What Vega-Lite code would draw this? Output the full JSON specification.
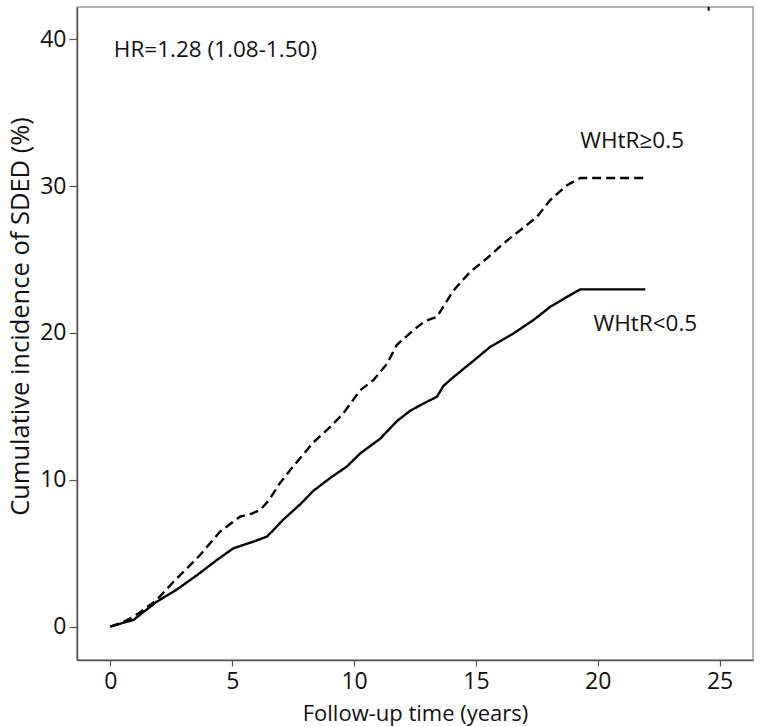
{
  "$schema": "https://vega.github.io/schema/vega-lite/v6.json",
  "width": 676,
  "height": 653,
  "autosize": {"type": "none"},
  "padding": {"left": 77, "top": 7, "right": 7, "bottom": 67},
  "background": "white",
  "config": {
    "font": "Open Sans",
    "view": {"stroke": "#9a9a9a", "strokeWidth": 1.5},
    "axis": {
      "grid": false,
      "domainColor": "#555555",
      "domainWidth": 1.5,
      "tickColor": "#555555",
      "tickWidth": 1.2,
      "labelColor": "#111111",
      "titleColor": "#111111",
      "labelFont": "Open Sans",
      "titleFont": "Open Sans",
      "titleFontWeight": "normal"
    }
  },
  "datasets": {
    "curves": [
      {"t": 0, "inc": 0, "grp": "WHtR<0.5"},
      {"t": 0.3, "inc": 0.15, "grp": "WHtR<0.5"},
      {"t": 0.6, "inc": 0.3, "grp": "WHtR<0.5"},
      {"t": 0.95, "inc": 0.46, "grp": "WHtR<0.5"},
      {"t": 1.4, "inc": 1.05, "grp": "WHtR<0.5"},
      {"t": 1.9, "inc": 1.7, "grp": "WHtR<0.5"},
      {"t": 2.7, "inc": 2.5, "grp": "WHtR<0.5"},
      {"t": 3.55, "inc": 3.5, "grp": "WHtR<0.5"},
      {"t": 4.37, "inc": 4.54, "grp": "WHtR<0.5"},
      {"t": 5.05, "inc": 5.34, "grp": "WHtR<0.5"},
      {"t": 5.87, "inc": 5.79, "grp": "WHtR<0.5"},
      {"t": 6.42, "inc": 6.13, "grp": "WHtR<0.5"},
      {"t": 6.7, "inc": 6.6, "grp": "WHtR<0.5"},
      {"t": 7.1, "inc": 7.3, "grp": "WHtR<0.5"},
      {"t": 7.4, "inc": 7.75, "grp": "WHtR<0.5"},
      {"t": 7.8, "inc": 8.35, "grp": "WHtR<0.5"},
      {"t": 8.33, "inc": 9.25, "grp": "WHtR<0.5"},
      {"t": 9.0, "inc": 10.1, "grp": "WHtR<0.5"},
      {"t": 9.7, "inc": 10.9, "grp": "WHtR<0.5"},
      {"t": 10.25, "inc": 11.8, "grp": "WHtR<0.5"},
      {"t": 11.07, "inc": 12.8, "grp": "WHtR<0.5"},
      {"t": 11.76, "inc": 14.0, "grp": "WHtR<0.5"},
      {"t": 12.3, "inc": 14.7, "grp": "WHtR<0.5"},
      {"t": 12.85, "inc": 15.2, "grp": "WHtR<0.5"},
      {"t": 13.4, "inc": 15.66, "grp": "WHtR<0.5"},
      {"t": 13.67, "inc": 16.4, "grp": "WHtR<0.5"},
      {"t": 14.08, "inc": 17.0, "grp": "WHtR<0.5"},
      {"t": 14.77, "inc": 17.93, "grp": "WHtR<0.5"},
      {"t": 15.59, "inc": 19.06, "grp": "WHtR<0.5"},
      {"t": 16.54, "inc": 19.97, "grp": "WHtR<0.5"},
      {"t": 17.36, "inc": 20.88, "grp": "WHtR<0.5"},
      {"t": 18.05, "inc": 21.78, "grp": "WHtR<0.5"},
      {"t": 18.74, "inc": 22.46, "grp": "WHtR<0.5"},
      {"t": 19.28, "inc": 22.97, "grp": "WHtR<0.5"},
      {"t": 21.95, "inc": 22.97, "grp": "WHtR<0.5"},
      {"t": 0, "inc": 0, "grp": "WHtR≥0.5"},
      {"t": 0.5, "inc": 0.3, "grp": "WHtR≥0.5"},
      {"t": 0.95, "inc": 0.68, "grp": "WHtR≥0.5"},
      {"t": 1.4, "inc": 1.2, "grp": "WHtR≥0.5"},
      {"t": 1.9, "inc": 1.82, "grp": "WHtR≥0.5"},
      {"t": 2.59, "inc": 3.06, "grp": "WHtR≥0.5"},
      {"t": 3.1, "inc": 3.9, "grp": "WHtR≥0.5"},
      {"t": 3.68, "inc": 4.88, "grp": "WHtR≥0.5"},
      {"t": 4.5, "inc": 6.47, "grp": "WHtR≥0.5"},
      {"t": 5.32, "inc": 7.49, "grp": "WHtR≥0.5"},
      {"t": 5.8, "inc": 7.7, "grp": "WHtR≥0.5"},
      {"t": 6.15, "inc": 7.95, "grp": "WHtR≥0.5"},
      {"t": 6.5, "inc": 8.6, "grp": "WHtR≥0.5"},
      {"t": 6.97, "inc": 9.8, "grp": "WHtR≥0.5"},
      {"t": 7.38, "inc": 10.67, "grp": "WHtR≥0.5"},
      {"t": 8.33, "inc": 12.55, "grp": "WHtR≥0.5"},
      {"t": 9.02, "inc": 13.6, "grp": "WHtR≥0.5"},
      {"t": 9.56, "inc": 14.53, "grp": "WHtR≥0.5"},
      {"t": 10.25, "inc": 16.1, "grp": "WHtR≥0.5"},
      {"t": 10.8, "inc": 16.8, "grp": "WHtR≥0.5"},
      {"t": 11.35, "inc": 17.9, "grp": "WHtR≥0.5"},
      {"t": 11.76, "inc": 19.2, "grp": "WHtR≥0.5"},
      {"t": 12.44, "inc": 20.2, "grp": "WHtR≥0.5"},
      {"t": 12.9, "inc": 20.8, "grp": "WHtR≥0.5"},
      {"t": 13.4, "inc": 21.1, "grp": "WHtR≥0.5"},
      {"t": 14.08, "inc": 22.9, "grp": "WHtR≥0.5"},
      {"t": 14.77, "inc": 24.17, "grp": "WHtR≥0.5"},
      {"t": 15.45, "inc": 25.08, "grp": "WHtR≥0.5"},
      {"t": 16.13, "inc": 26.1, "grp": "WHtR≥0.5"},
      {"t": 16.82, "inc": 27.0, "grp": "WHtR≥0.5"},
      {"t": 17.5, "inc": 27.9, "grp": "WHtR≥0.5"},
      {"t": 18.05, "inc": 29.05, "grp": "WHtR≥0.5"},
      {"t": 18.74, "inc": 30.07, "grp": "WHtR≥0.5"},
      {"t": 19.28, "inc": 30.55, "grp": "WHtR≥0.5"},
      {"t": 21.95, "inc": 30.55, "grp": "WHtR≥0.5"}
    ],
    "notes": [
      {"t": 0.14, "inc": 39.3, "label": "HR=1.28 (1.08-1.50)"},
      {"t": 19.28, "inc": 33.06, "label": "WHtR≥0.5"},
      {"t": 19.82, "inc": 20.63, "label": "WHtR<0.5"}
    ],
    "marks": [
      {"t": 24.55, "inc": 41.95, "inc2": 42.2}
    ]
  },
  "layer": [
    {
      "data": {"name": "curves"},
      "mark": {"type": "line", "color": "#000000", "strokeWidth": 2.4, "clip": true},
      "encoding": {
        "x": {
          "field": "t",
          "type": "quantitative",
          "scale": {"domain": [-1.37, 26.37], "nice": false, "zero": false},
          "axis": {
            "values": [0, 5, 10, 15, 20, 25],
            "title": "Follow-up time (years)",
            "labelFontSize": 23,
            "titleFontSize": 22,
            "tickSize": 6,
            "labelPadding": 4,
            "titlePadding": 10
          }
        },
        "y": {
          "field": "inc",
          "type": "quantitative",
          "scale": {"domain": [-2.27, 42.2], "nice": false, "zero": false},
          "axis": {
            "values": [0, 10, 20, 30, 40],
            "title": "Cumulative incidence of SDED (%)",
            "labelFontSize": 23,
            "titleFontSize": 25.5,
            "titleY": 309,
            "tickSize": 8,
            "labelPadding": 3,
            "titlePadding": 6
          }
        },
        "detail": {"field": "grp"},
        "strokeDash": {
          "field": "grp",
          "type": "nominal",
          "scale": {"domain": ["WHtR<0.5", "WHtR≥0.5"], "range": [[1, 0], [9, 5]]},
          "legend": null
        }
      }
    },
    {
      "data": {"name": "notes"},
      "mark": {"type": "text", "align": "left", "baseline": "middle", "fontSize": 22.5, "color": "#111111", "font": "Open Sans"},
      "encoding": {
        "x": {"field": "t", "type": "quantitative"},
        "y": {"field": "inc", "type": "quantitative"},
        "text": {"field": "label"}
      }
    },
    {
      "data": {"name": "marks"},
      "mark": {"type": "rule", "color": "#000000", "strokeWidth": 2},
      "encoding": {
        "x": {"field": "t", "type": "quantitative"},
        "y": {"field": "inc", "type": "quantitative"},
        "y2": {"field": "inc2"}
      }
    }
  ]
}
